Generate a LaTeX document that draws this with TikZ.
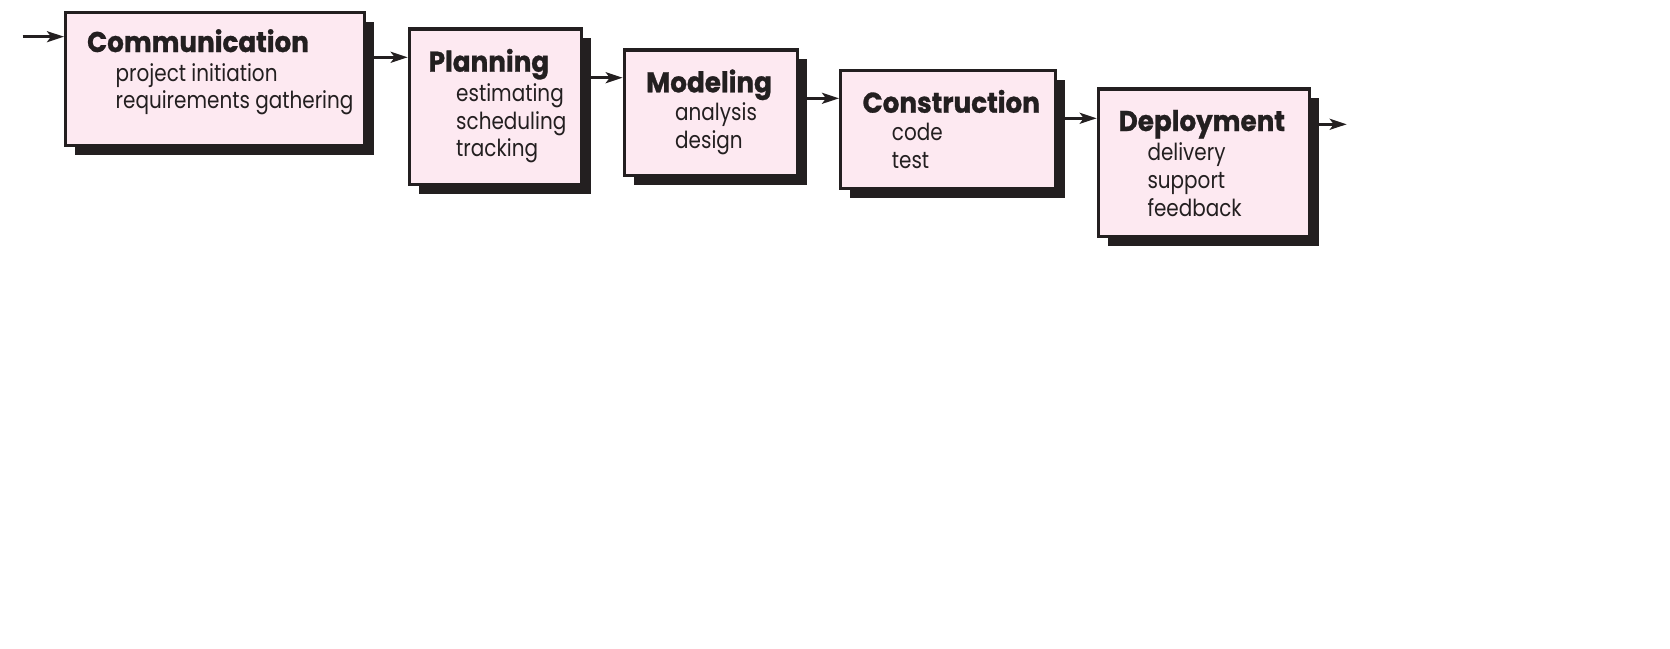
\documentclass[tikz,border=0pt]{standalone}
\usepackage{fontspec}
\newfontfamily\headfont{Poppins}[FakeStretch=0.92, BoldFeatures={FakeBold=1}]
\newfontfamily\bodyfont{Poppins}[FakeStretch=0.85]
\usetikzlibrary{arrows.meta,shadows}
\definecolor{pinkfill}{HTML}{FDE9F1}
\definecolor{ink}{HTML}{231F20}
\tikzset{
  stagebox/.style={draw=ink, line width=3.2pt, fill=pinkfill, inner sep=0pt, anchor=north west,
    drop shadow={shadow xshift=9.5pt, shadow yshift=-9.5pt, fill=ink, opacity=1}},
  headtxt/.style={inner sep=0pt, anchor=base west, text=ink, font=\headfont\bfseries\fontsize{28.5}{30}\selectfont},
  bodytxt/.style={inner sep=0pt, anchor=base west, text=ink, font=\bodyfont\fontsize{23.5}{28}\selectfont},
  flow/.style={draw=ink, line width=2.8pt, -{Stealth[length=17pt,width=11pt,inset=4pt]}},
}
\begin{document}
\begin{tikzpicture}[x=1pt,y=-1pt]
\useasboundingbox (0,0) rectangle (1670,648);
% boxes
\node[stagebox, minimum width=298.8pt, minimum height=132.5pt] (comm) at (64,11) {};
\node[stagebox, minimum width=172.4pt, minimum height=155.2pt] (plan) at (407.7,27.3) {};
\node[stagebox, minimum width=173.4pt, minimum height=125.8pt] (model) at (622.7,48.3) {};
\node[stagebox, minimum width=214.5pt, minimum height=117.8pt] (constr) at (839,69) {};
\node[stagebox, minimum width=211.1pt, minimum height=147.8pt] (deploy) at (1096.7,87.3) {};
% headings
\node[headtxt] (comm-h) at (87,52) {Communication};
\node[headtxt] (plan-h) at (428.5,71.7) {Planning};
\node[headtxt] (model-h) at (646,92.3) {Modeling};
\node[headtxt] (constr-h) at (862.5,112.7) {Construction};
\node[headtxt] (deploy-h) at (1118.5,131) {Deployment};
% items
\node[bodytxt] (comm-1) at (115.5,81) {project initiation};
\node[bodytxt] (comm-2) at (115.5,108.5) {requirements gathering};
\node[bodytxt] (plan-1) at (456,101) {estimating};
\node[bodytxt] (plan-2) at (456,129) {scheduling};
\node[bodytxt] (plan-3) at (456,156.7) {tracking};
\node[bodytxt] (model-1) at (675,120.7) {analysis};
\node[bodytxt] (model-2) at (675,148.3) {design};
\node[bodytxt] (constr-1) at (891.7,140.7) {code};
\node[bodytxt] (constr-2) at (891.7,168.3) {test};
\node[bodytxt] (deploy-1) at (1147.3,160) {delivery};
\node[bodytxt] (deploy-2) at (1147.3,188.3) {support};
\node[bodytxt] (deploy-3) at (1147.3,216) {feedback};
% connectors
\coordinate (start) at (22.7,36.7);
\coordinate (finish) at (1346.7,124.3);
\draw[flow] (start) -- (comm.west |- start);
\draw[flow] (comm.east |- 0,57.3) -- (plan.west |- 0,57.3);
\draw[flow] (plan.east |- 0,77.7) -- (model.west |- 0,77.7);
\draw[flow] (model.east |- 0,98.3) -- (constr.west |- 0,98.3);
\draw[flow] (constr.east |- 0,118.3) -- (deploy.west |- 0,118.3);
\draw[flow] (deploy.east |- finish) -- (finish);
\end{tikzpicture}
\end{document}
